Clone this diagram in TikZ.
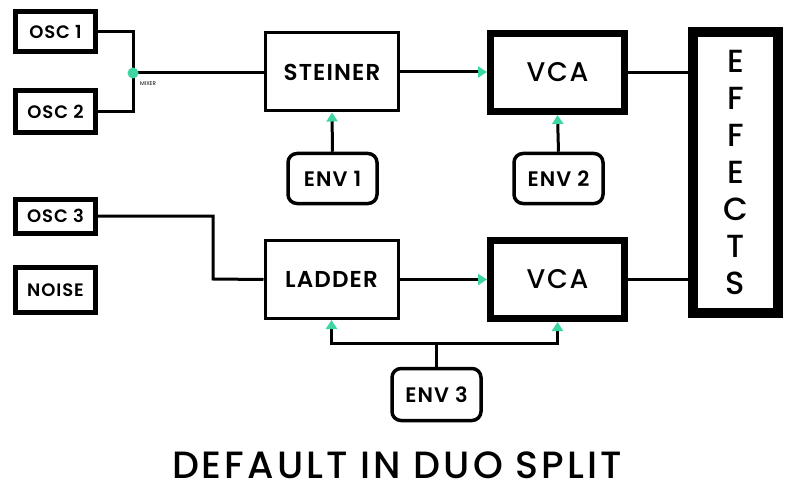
\documentclass[tikz,border=0pt]{standalone}
\usepackage{fontspec}
\setmainfont{Poppins}
\newfontfamily\bxfont{Poppins}[UprightFont={* SemiBold}, LetterSpace=5]
\newfontfamily\mdfont{Poppins}[UprightFont={* Medium}, LetterSpace=6]
\newfontfamily\ttlfont{Poppins}[UprightFont={* Medium}, LetterSpace=8]
\usetikzlibrary{arrows.meta,calc}
\definecolor{teal1}{HTML}{3DD6A0}
\tikzset{
  osc/.style={draw, line width=5pt, minimum width=80pt, inner sep=0pt, font=\bxfont\fontsize{18}{18}\selectfont},
  flt/.style={draw, line width=3pt, minimum width=133pt, minimum height=78pt, inner sep=0pt, font=\bxfont\fontsize{23}{23}\selectfont},
  vca/.style={draw, line width=7pt, minimum width=134pt, minimum height=78pt, inner sep=0pt, font=\mdfont\fontsize{27}{27}\selectfont},
  env/.style={draw, line width=3.5pt, rounded corners=9pt, minimum width=89pt, minimum height=50pt, inner sep=0pt, font=\bxfont\fontsize{21}{21}\selectfont},
  wire/.style={line width=3pt},
  arr/.style={line width=3pt, -{Triangle[length=9pt,width=11pt,color=teal1]}},
}
\begin{document}
\begin{tikzpicture}[x=1pt,y=-1pt]
\useasboundingbox[fill=white] (0,0) rectangle (790,484);
% sources
\node[osc, minimum height=40pt] (osc1) at (55.5,32) {OSC 1};
\node[osc, minimum height=42pt] (osc2) at (55.5,112) {OSC 2};
\node[osc, minimum height=34pt] (osc3) at (55.5,216) {OSC 3};
\node[osc, minimum height=45pt] (noise) at (55.5,290) {NOISE};
% mixer
\coordinate (mix) at (133,73);
\node[anchor=north west, inner sep=0pt, font=\fontsize{5.5}{5.5}\selectfont] (mixl) at (140,81) {MIXER};
% filters / vcas
\node[flt] (steiner) at (332,72) {STEINER};
\node[vca] (vca1) at (557.5,72.5) {VCA};
\node[flt] (ladder) at (331.5,279.5) {LADDER};
\node[vca] (vca2) at (557.5,279.5) {VCA};
% envelopes
\node[env] (env1) at (332.5,178.5) {ENV 1};
\node[env] (env2) at (558.5,178.5) {ENV 2};
\node[env, minimum height=52pt] (env3) at (436.5,394.5) {ENV 3};
% effects
\node[draw, line width=10pt, minimum width=85pt, minimum height=281pt, inner sep=0pt, align=center,
      font=\mdfont\fontsize{32}{37}\selectfont] (fx) at (735.5,172.5) {E\\F\\F\\E\\C\\T\\S};
% title
\node[inner sep=0pt, font=\ttlfont\fontsize{38}{38}\selectfont] (title) at (397,465) {DEFAULT IN DUO SPLIT};
% wires
\draw[wire] (osc1.east) -| (mix) |- (osc2.east);
\draw[wire] (mix) -- (steiner.west |- mix);
\fill[teal1] (mix) circle (5.5pt);
\draw[arr] (steiner.east) -- (vca1.west |- steiner.east);
\draw[arr] (env1.north) -- (steiner.south);
\draw[arr] (env2.north) -- (vca1.south);
\draw[wire] (vca1.east) -- (fx.west |- vca1.east);
\coordinate (bend) at (213,279);
\draw[wire] (osc3.east) -| (bend) -- (ladder.west);
\draw[arr] (ladder.east) -- (vca2.west |- ladder.east);
\draw[wire] (vca2.east) -- (fx.west |- vca2.east);
\coordinate (bus) at (436.5,343);
\draw[wire] (env3.north) -- (bus);
\draw[arr] (bus) -| (ladder.south);
\draw[arr] (bus) -| (vca2.south);
\end{tikzpicture}
\end{document}
